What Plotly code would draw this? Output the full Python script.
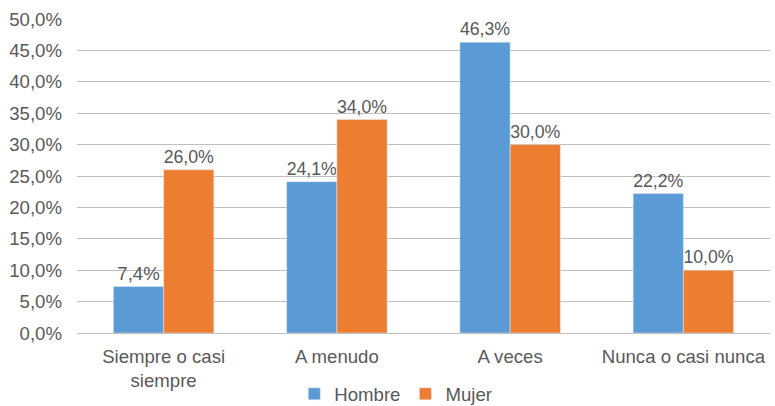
import plotly.graph_objects as go

categories = ["Siempre o casi<br>siempre", "A menudo", "A veces", "Nunca o casi nunca"]
hombre = [7.4, 24.1, 46.3, 22.2]
mujer = [26.0, 34.0, 30.0, 10.0]
tick_vals = [0, 5, 10, 15, 20, 25, 30, 35, 40, 45, 50]

def fmt(v):
    return f"{v:.1f}%".replace(".", ",")

FONT = "Liberation Sans, Arial, sans-serif"
GRAY = "#595959"
FS = 18.6

fig = go.Figure()
fig.add_trace(go.Bar(name="Hombre", x=categories, y=hombre, marker_color="#5B9BD5",
                     text=[fmt(v) for v in hombre], textposition="outside",
                     textfont=dict(size=FS, color=GRAY, family=FONT), cliponaxis=False))
fig.add_trace(go.Bar(name="Mujer", x=categories, y=mujer, marker_color="#ED7D31",
                     text=[fmt(v) for v in mujer], textposition="outside",
                     textfont=dict(size=FS, color=GRAY, family=FONT), cliponaxis=False))

fig.update_layout(
    width=775, height=406,
    margin=dict(l=77, r=5, t=19, b=73, autoexpand=False),
    paper_bgcolor="white", plot_bgcolor="white",
    font=dict(family=FONT, size=FS, color=GRAY),
    barmode="group", bargap=0.42, bargroupgap=0,
    separators=",.",
    showlegend=True,
    legend=dict(orientation="h", x=0.46, xanchor="center", y=-0.195, yanchor="middle",
                font=dict(size=FS, color=GRAY), itemwidth=30, traceorder="normal"),
)
fig.update_yaxes(range=[0, 50], tickvals=tick_vals, ticktext=[fmt(v) for v in tick_vals],
                 showgrid=True, gridcolor="#BFBFBF", gridwidth=1, zeroline=True,
                 zerolinecolor="#BFBFBF", zerolinewidth=1, ticks="", ticklabelstandoff=14,
                 tickfont=dict(size=FS, color=GRAY), fixedrange=True, automargin=False)
fig.update_xaxes(showline=False, ticks="", tickfont=dict(size=FS, color=GRAY), fixedrange=True,
                 automargin=False, ticklabelstandoff=10)

fig.write_html("out.html", config={"displayModeBar": False},
               post_script="document.body.style.margin='0';")
